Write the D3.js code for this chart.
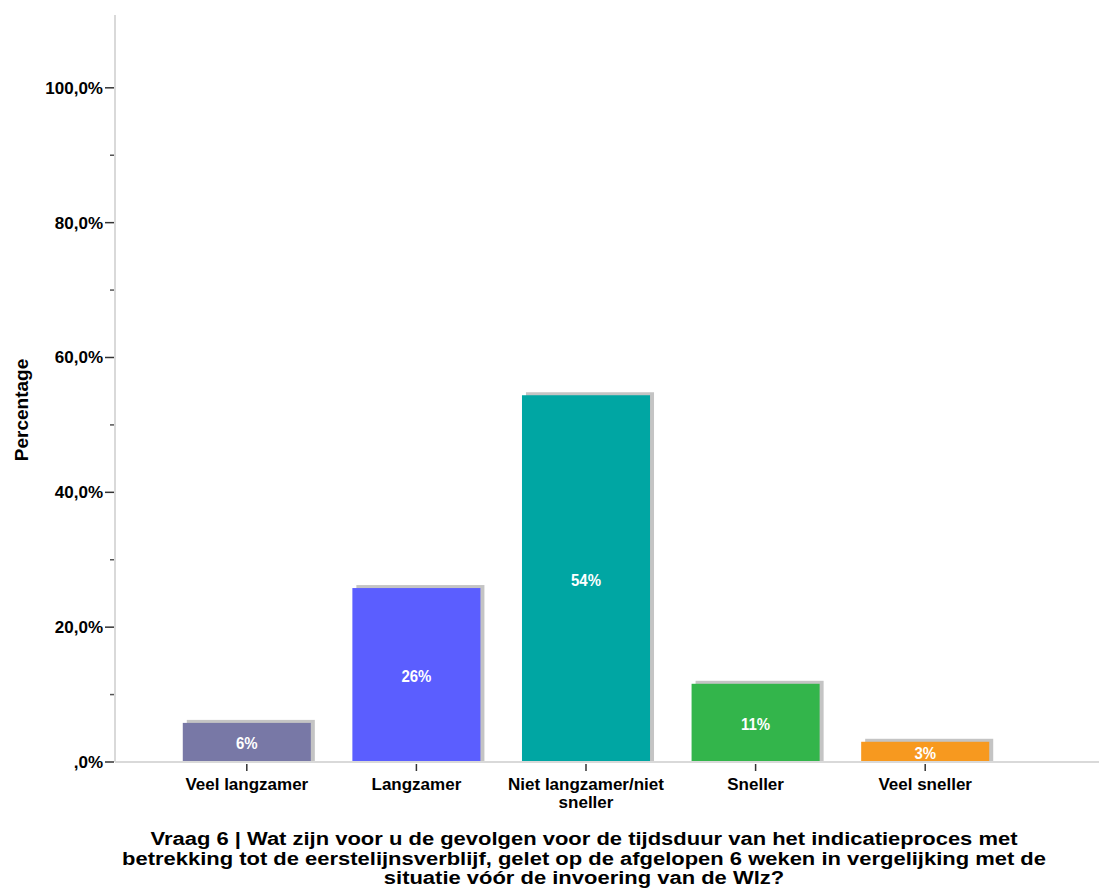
<!DOCTYPE html>
<html>
  <head>
    <title>Vraag 6</title>
    <style>
    body {
        margin: 0px;
        overflow: hidden;
        background: #fff;
    }
    text {
        font-family: "Liberation Sans", Arial, sans-serif;
        font-weight: bold;
    }
    </style>
    <script src="https://d3js.org/d3.v7.min.js"></script>
  </head>
  <body>
    <svg width="1099" height="891"></svg>
    <script>
        // data
        const categories = ['Veel langzamer', 'Langzamer', 'Niet langzamer/niet sneller', 'Sneller', 'Veel sneller'];
        const categoryLines = [['Veel langzamer'], ['Langzamer'], ['Niet langzamer/niet', 'sneller'], ['Sneller'], ['Veel sneller']];
        const percentages = [5.8, 25.8, 54.4, 11.6, 3.0];
        const barLabels = ['6%', '26%', '54%', '11%', '3%'];
        const barColors = ['#7878a6', '#5b5eff', '#00a6a3', '#33b54b', '#f7991f'];
        const majorTicks = [0, 20, 40, 60, 80, 100];
        const minorTicks = [10, 30, 50, 70, 90];
        const tickLabels = [',0%', '20,0%', '40,0%', '60,0%', '80,0%', '100,0%'];
        const titleLines = [
            'Vraag 6 | Wat zijn voor u de gevolgen voor de tijdsduur van het indicatieproces met',
            'betrekking tot de eerstelijnsverblijf, gelet op de afgelopen 6 weken in vergelijking met de',
            'situatie vóór de invoering van de Wlz?'
        ];

        const svg = d3.select('svg');
        const axisX = 115;

        const yScale = d3.scaleLinear()
            .domain([0, 110.8])
            .range([762, 15]);

        const xScale = d3.scaleBand()
            .domain(categories)
            .range([162, 1010])
            .paddingInner(0.245)
            .paddingOuter(0.1225);

        // bars with grey drop shadow
        const bars = svg.append('g');
        bars.selectAll('rect.shadow').data(percentages)
            .enter().append('rect')
            .attr('class', 'shadow')
            .attr('x', (d, i) => xScale(categories[i]) + 4)
            .attr('y', d => yScale(d) - 3)
            .attr('width', xScale.bandwidth())
            .attr('height', d => yScale(0) - yScale(d) + 3)
            .attr('fill', '#c4c4c4');

        bars.selectAll('rect.bar').data(percentages)
            .enter().append('rect')
            .attr('class', 'bar')
            .attr('x', (d, i) => xScale(categories[i]))
            .attr('y', d => yScale(d))
            .attr('width', xScale.bandwidth())
            .attr('height', d => yScale(0) - yScale(d))
            .attr('fill', (d, i) => barColors[i]);

        bars.selectAll('text').data(percentages)
            .enter().append('text')
            .attr('x', (d, i) => xScale(categories[i]) + xScale.bandwidth() / 2)
            .attr('y', d => (yScale(d) + yScale(0)) / 2 + 7)
            .attr('text-anchor', 'middle')
            .attr('font-size', '17px')
            .attr('fill', '#ffffff')
            .text((d, i) => barLabels[i])
            .each(function () {
                const w = this.getComputedTextLength();
                d3.select(this)
                    .attr('textLength', w * 0.88)
                    .attr('lengthAdjust', 'spacingAndGlyphs');
            });

        // axes lines
        svg.append('line')
            .attr('x1', axisX).attr('x2', 1099)
            .attr('y1', yScale(0)).attr('y2', yScale(0))
            .attr('stroke', '#d9d9d9').attr('stroke-width', 2);
        svg.append('line')
            .attr('x1', axisX).attr('x2', axisX)
            .attr('y1', yScale.range()[1]).attr('y2', yScale(0))
            .attr('stroke', '#d9d9d9').attr('stroke-width', 2);

        // y ticks
        const yAxis = svg.append('g');
        yAxis.selectAll('line.major').data(majorTicks)
            .enter().append('line')
            .attr('x1', axisX - 10).attr('x2', axisX - 1)
            .attr('y1', d => yScale(d)).attr('y2', d => yScale(d))
            .attr('stroke', '#333').attr('stroke-width', 1.5);
        yAxis.selectAll('line.minor').data(minorTicks)
            .enter().append('line')
            .attr('x1', axisX - 5).attr('x2', axisX - 1)
            .attr('y1', d => yScale(d)).attr('y2', d => yScale(d))
            .attr('stroke', '#555').attr('stroke-width', 1.5);
        yAxis.selectAll('text').data(majorTicks)
            .enter().append('text')
            .attr('x', axisX - 12)
            .attr('y', d => yScale(d) + 6)
            .attr('text-anchor', 'end')
            .attr('font-size', '17px')
            .attr('fill', '#000')
            .text((d, i) => tickLabels[i]);

        svg.append('text')
            .attr('transform', `translate(28,410) rotate(-90)`)
            .attr('text-anchor', 'middle')
            .attr('font-size', '19px')
            .attr('fill', '#000')
            .text('Percentage');

        // x ticks and labels
        const xAxis = svg.append('g');
        xAxis.selectAll('line').data(categories)
            .enter().append('line')
            .attr('x1', d => xScale(d) + xScale.bandwidth() / 2)
            .attr('x2', d => xScale(d) + xScale.bandwidth() / 2)
            .attr('y1', yScale(0) + 2).attr('y2', yScale(0) + 9)
            .attr('stroke', '#333').attr('stroke-width', 1.5);
        xAxis.selectAll('text').data(categories)
            .enter().append('text')
            .attr('x', d => xScale(d) + xScale.bandwidth() / 2)
            .attr('y', 790)
            .attr('text-anchor', 'middle')
            .attr('font-size', '17px')
            .attr('fill', '#000')
            .each(function (d, i) {
                const t = d3.select(this);
                categoryLines[i].forEach((line, j) => {
                    t.append('tspan')
                        .attr('x', xScale(d) + xScale.bandwidth() / 2)
                        .attr('dy', j === 0 ? 0 : 17.5)
                        .text(line);
                });
            });

        // title, condensed like the original
        const title = svg.append('g');
        const titleText = title.selectAll('text').data(titleLines)
            .enter().append('text')
            .attr('x', 584)
            .attr('y', (d, i) => 845 + i * 19.5)
            .attr('text-anchor', 'middle')
            .attr('font-size', '18px')
            .attr('fill', '#000')
            .text(d => d);
        const natural = titleText.nodes()[1].getComputedTextLength();
        const squeeze = 924 / natural;
        titleText.each(function () {
            const w = this.getComputedTextLength();
            d3.select(this)
                .attr('textLength', w * squeeze)
                .attr('lengthAdjust', 'spacingAndGlyphs');
        });
    </script>
  </body>
</html>
